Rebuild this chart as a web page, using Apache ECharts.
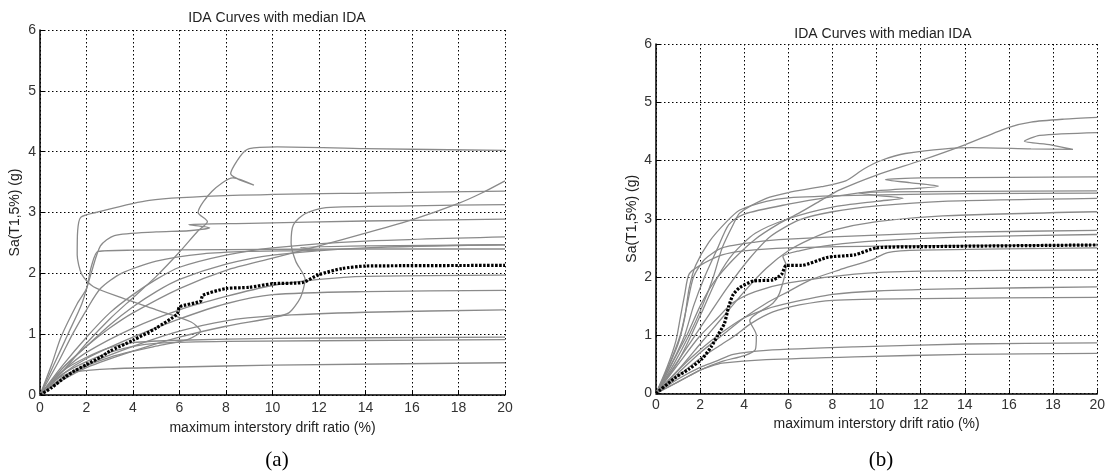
<!DOCTYPE html>
<html>
<head>
<meta charset="utf-8">
<script src="https://cdn.jsdelivr.net/npm/echarts@6/dist/echarts.min.js"></script>
<style>
html,body{margin:0;padding:0;background:#fff;}
#chart{width:1108px;height:475px;}
</style>
</head>
<body>
<div id="chart"></div>
<script>
// ---- tick labels ----
const xTicks = [0, 2, 4, 6, 8, 10, 12, 14, 16, 18, 20];
const yTicks = [0, 1, 2, 3, 4, 5, 6];
const titleText = 'IDA Curves with median IDA';
const xName = 'maximum interstory drift ratio (%)';
const yName = 'Sa(T1,5%) (g)';
const panelLabels = ['(a)', '(b)'];

// ---- panel (a): individual IDA curves [drift %, Sa g] ----
const a1 = [[0,0],[1,0.4],[2,0.85],[3,1.25],[4,1.6],[5,1.95],[6,2.35],[6.8,2.7],[7.2,2.85],[6.8,3.0],[7.4,3.35],[8.3,3.57],[9.2,3.45],[8.2,3.64],[8.6,3.92],[9,4.05],[10.2,4.08],[14,4.05],[20,4.02]];
const a2 = [[0,0],[1,0.28],[2,0.48],[3,0.62],[4,0.72],[5.2,0.82],[6.4,0.92],[6.9,1.05],[6.5,1.2],[5,1.4],[3.5,1.6],[2.3,1.78],[1.8,1.98],[1.6,2.3],[1.62,2.7],[1.75,2.92],[2.4,3.0],[4.7,3.2],[8.3,3.28],[14,3.32],[20,3.35]];
const a3 = [[0,0],[1,0.45],[2,0.8],[3,1.1],[4,1.35],[6,1.75],[8,2.05],[10,2.25],[12,2.45],[14,2.66],[16,2.88],[18,3.15],[19,3.32],[20,3.52]];
const a4 = [[0,0],[1,0.25],[2,0.45],[4,0.72],[6,0.95],[8,1.13],[10,1.27],[10.7,1.35],[11.2,1.6],[11.4,1.9],[11.0,2.2],[10.8,2.5],[10.9,2.8],[11.4,2.98],[12.3,3.08],[16,3.11],[20,3.13]];
const a5 = [[0,0],[0.6,0.5],[1.2,1.0],[1.8,1.5],[2.2,2.0],[2.6,2.45],[3.2,2.62],[5,2.68],[6.4,2.7],[7.3,2.75],[6.4,2.8],[9,2.82],[14,2.86],[20,2.89]];
const a6 = [[0,0],[1,0.5],[2,0.95],[3,1.35],[4,1.65],[5,1.9],[6,2.1],[8,2.3],[10,2.42],[14,2.53],[20,2.6]];
const a7 = [[0,0],[1,0.45],[2,0.8],[3,1.15],[4,1.45],[5,1.7],[6,1.9],[8,2.15],[10,2.3],[14,2.42],[20,2.47]];
const a8 = [[0,0],[0.5,0.5],[0.9,0.95],[1.6,1.5],[2.0,1.75],[2.2,2.1],[2.5,2.36],[4,2.38],[8,2.39],[14,2.4],[20,2.4]];
const a9 = [[0,0],[1,0.4],[2,0.7],[4,1.1],[6,1.4],[8,1.62],[10,1.8],[12,1.9],[14,1.95],[20,1.97]];
const a10 = [[0,0],[1,0.35],[2,0.6],[4,0.95],[6,1.25],[8,1.5],[10,1.65],[14,1.7],[20,1.72]];
const a11 = [[0,0],[1,0.3],[2,0.5],[4,0.8],[6,1.05],[8,1.22],[10,1.3],[14,1.36],[20,1.4]];
const a12 = [[0,0],[1,0.4],[2,0.62],[3,0.78],[4,0.86],[6,0.9],[10,0.93],[20,0.95]];
const a13 = [[0,0],[1,0.35],[2,0.55],[3,0.7],[4,0.8],[5,0.85],[8,0.88],[20,0.91]];
const a14 = [[0,0],[0.5,0.2],[1,0.32],[1.5,0.38],[3,0.43],[6,0.46],[10,0.49],[20,0.53]];
const a15 = [[0,0],[0.8,0.55],[1.4,1.0],[2,1.4],[2.6,1.75],[3.5,2.0],[5,2.2],[7,2.32],[9,2.36],[12,2.38],[11.2,2.42],[14,2.45],[20,2.47]];
const aMedian = [[0,0],[0.5,0.12],[1.1,0.3],[1.5,0.4],[2,0.5],[2.6,0.62],[3,0.72],[4,0.9],[5,1.1],[5.9,1.33],[6,1.45],[6.9,1.54],[7,1.64],[8,1.75],[9,1.77],[10,1.83],[11.3,1.85],[12,1.98],[13,2.08],[14,2.12],[20,2.13]];

// ---- panel (b): individual IDA curves [drift %, Sa g] ----
const b1 = [[0,0],[0.7,0.5],[1.4,1.0],[2,1.5],[2.6,1.9],[3.5,2.3],[4.5,2.65],[5.5,2.9],[6.5,3.1],[7.5,3.32],[8.3,3.49],[10,3.75],[12,4.0],[14,4.27],[16,4.57],[17,4.66],[18.5,4.71],[20,4.74]];
const b2 = [[0,0],[0.8,0.5],[1.5,1.0],[2.1,1.5],[2.6,2.0],[3.0,2.5],[3.5,2.9],[3.8,3.1],[5,3.35],[6,3.45],[7.5,3.55],[8.6,3.65],[9.4,3.85],[10.2,4.0],[11.3,4.12],[14.3,4.22],[17,4.2],[18.9,4.19],[17.9,4.27],[16.7,4.33],[17.4,4.43],[20,4.48]];
const b3 = [[0,0],[0.7,0.5],[1.3,1.0],[1.7,1.5],[2.2,2.0],[2.8,2.5],[3.3,2.9],[4,3.08],[6,3.25],[8,3.38],[10,3.48],[12.8,3.56],[11.5,3.62],[10.4,3.67],[12,3.7],[16,3.71],[20,3.72]];
const b4 = [[0,0],[1,0.55],[1.6,1.0],[2.2,1.5],[2.8,2.0],[3.5,2.4],[4.5,2.75],[6,3.0],[8,3.2],[10,3.3],[11.2,3.35],[10,3.4],[9.2,3.44],[10.5,3.46],[14,3.47],[20,3.48]];
const b5 = [[0,0],[0.5,0.4],[1,0.85],[1.3,1.3],[1.5,1.8],[1.8,2.2],[2.4,2.6],[3.2,2.95],[3.8,3.15],[5,3.3],[6,3.36],[9,3.4],[14,3.43],[20,3.44]];
const b6 = [[0,0],[0.8,0.45],[1.6,0.9],[2.4,1.35],[3.2,1.8],[4.2,2.3],[5.2,2.7],[6.5,2.98],[8,3.12],[10,3.22],[13,3.3],[20,3.35]];
const b7 = [[0,0],[1,0.4],[2,0.85],[3,1.3],[4,1.75],[5,2.15],[6,2.45],[7,2.65],[8,2.8],[10,2.95],[13,3.05],[20,3.12]];
const b8 = [[0,0],[0.6,0.5],[1.1,1.0],[1.4,1.5],[1.7,2.0],[2.2,2.3],[3,2.5],[4.5,2.6],[6,2.65],[10,2.72],[14,2.77],[20,2.8]];
const b9 = [[0,0],[1,0.2],[2,0.4],[3,0.55],[4,0.65],[4.5,0.75],[4.55,1.0],[4.25,1.25],[5.3,1.55],[5.6,1.72],[5.9,2.2],[5.75,2.35],[6.5,2.45],[8,2.55],[10,2.62],[14,2.69],[20,2.73]];
const b10 = [[0,0],[1,0.5],[1.95,0.97],[2.8,1.3],[3.45,1.55],[4.5,1.75],[6,1.9],[9,2.05],[12,2.1],[20,2.12]];
const b11 = [[0,0],[1,0.4],[2,0.75],[3,1.05],[4,1.3],[5,1.45],[6,1.55],[8,1.7],[10,1.76],[14,1.8],[20,1.83]];
const b12 = [[0,0],[1,0.3],[2,0.6],[3,0.85],[3.6,1.0],[4.3,1.2],[5.3,1.4],[6.5,1.52],[8,1.6],[12,1.63],[20,1.65]];
const b13 = [[0,0],[1,0.25],[2,0.45],[2.7,0.55],[3.5,0.67],[5,0.74],[9,0.8],[14,0.85],[20,0.87]];
const b14 = [[0,0],[1,0.2],[1.5,0.3],[2,0.4],[2.5,0.47],[3,0.52],[5,0.58],[9,0.63],[14,0.67],[20,0.69]];
const b15 = [[0,0],[1,0.35],[2,0.7],[3,1.0],[4,1.3],[5,1.55],[6,1.75],[7,1.95],[8.3,2.12],[9.8,2.3],[10.5,2.42],[12,2.46],[20,2.5]];
const b16 = [[0,0],[0.5,0.45],[0.9,0.9],[1.1,1.3],[1.3,1.7],[1.5,2.05],[2,2.2],[3,2.38],[4,2.45],[6,2.5],[10,2.53],[20,2.55]];
const bMedian = [[0,0],[0.9,0.28],[1.5,0.42],[2.1,0.6],[2.5,0.8],[2.8,1.0],[3.1,1.2],[3.3,1.5],[3.5,1.7],[3.8,1.82],[4.4,1.93],[5.3,1.95],[5.7,2.05],[5.9,2.2],[6.6,2.2],[7.8,2.34],[9,2.38],[10,2.5],[12,2.52],[20,2.55]];

const aCurves = [a1,a2,a3,a4,a5,a6,a7,a8,a9,a10,a11,a12,a13,a14,a15];
const bCurves = [b1,b2,b3,b4,b5,b6,b7,b8,b9,b10,b11,b12,b13,b14,b15,b16];

const FONT = 'Liberation Sans, Arial, sans-serif';
const gray = '#8a8a8a';

function xAx(gi, gap, margin) {
  return {
    type: 'value', gridIndex: gi, min: 0, max: 20, interval: 2,
    name: xName, nameLocation: 'middle', nameGap: gap,
    nameTextStyle: {fontFamily: FONT, fontSize: 14, color: '#222'},
    axisLine: {show: true, onZero: false, lineStyle: {color: '#000', width: 1.5}},
    axisTick: {show: true, inside: true, length: 4, lineStyle: {color: '#000'}},
    axisLabel: {fontFamily: FONT, fontSize: 14, color: '#333', margin: margin,
      formatter: v => xTicks.includes(v) ? String(v) : ''},
    splitLine: {show: true, lineStyle: {color: '#000', type: [1.5, 2.5], width: 1}}
  };
}
function yAx(gi, gap) {
  return {
    type: 'value', gridIndex: gi, min: 0, max: 6, interval: 1,
    name: yName, nameLocation: 'middle', nameGap: gap, nameRotate: 90,
    nameTextStyle: {fontFamily: FONT, fontSize: 14, color: '#222'},
    axisLine: {show: true, onZero: false, lineStyle: {color: '#000', width: 1.5}},
    axisTick: {show: true, inside: true, length: 4, lineStyle: {color: '#000'}},
    axisLabel: {fontFamily: FONT, fontSize: 14, color: '#333', margin: 4,
      formatter: v => yTicks.includes(v) ? String(v) : ''},
    splitLine: {show: true, lineStyle: {color: '#000', type: [1.5, 2.5], width: 1}}
  };
}

const series = [];
aCurves.forEach(c => series.push({type: 'line', xAxisIndex: 0, yAxisIndex: 0, data: c,
  showSymbol: false, smooth: 0.25, lineStyle: {color: gray, width: 1.3}, silent: true, z: 2}));
series.push({type: 'line', xAxisIndex: 0, yAxisIndex: 0, data: aMedian, showSymbol: false, smooth: 0.2,
  lineStyle: {color: '#000', width: 3.2, type: [2.5, 1.5]}, z: 5});
bCurves.forEach(c => series.push({type: 'line', xAxisIndex: 1, yAxisIndex: 1, data: c,
  showSymbol: false, smooth: 0.25, lineStyle: {color: gray, width: 1.3}, silent: true, z: 2}));
series.push({type: 'line', xAxisIndex: 1, yAxisIndex: 1, data: bMedian, showSymbol: false, smooth: 0.2,
  lineStyle: {color: '#000', width: 3.2, type: [2.5, 1.5]}, z: 5});

const chart = echarts.init(document.getElementById('chart'), null, {renderer: 'canvas'});
chart.setOption({
  animation: false,
  backgroundColor: '#fff',
  title: [
    {text: titleText, left: 272, top: 6, textAlign: 'center',
      textStyle: {fontFamily: FONT, fontSize: 14, fontWeight: 'normal', color: '#222'}},
    {text: titleText, left: 878, top: 22, textAlign: 'center',
      textStyle: {fontFamily: FONT, fontSize: 14, fontWeight: 'normal', color: '#222'}},
    {text: panelLabels[0], left: 272, top: 445, textAlign: 'center',
      textStyle: {fontFamily: 'Liberation Serif, Times New Roman, serif', fontSize: 21, fontWeight: 'normal', color: '#000'}},
    {text: panelLabels[1], left: 876, top: 445, textAlign: 'center',
      textStyle: {fontFamily: 'Liberation Serif, Times New Roman, serif', fontSize: 21, fontWeight: 'normal', color: '#000'}}
  ],
  grid: [
    {left: 40, top: 30, width: 465, height: 365},
    {left: 656, top: 44, width: 444, height: 349.5}
  ],
  xAxis: [xAx(0, 26, 6), xAx(1, 21, 5)],
  yAxis: [yAx(0, 18), yAx(1, 17)],
  series: series
});
</script>
</body>
</html>
